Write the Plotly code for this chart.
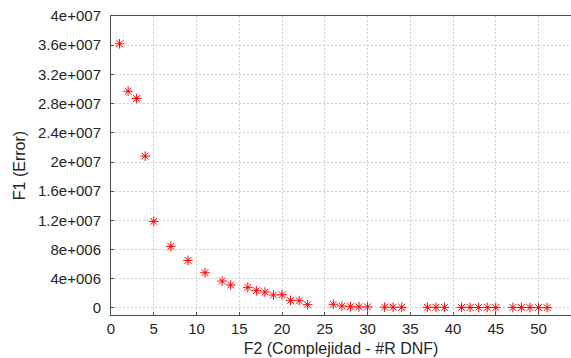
import plotly.graph_objects as go

complexity = [1, 2, 3, 4, 5, 7, 9, 11, 13, 14, 16, 17, 18, 19, 20, 21, 22, 23,
              26, 27, 28, 29, 30, 32, 33, 34, 37, 38, 39, 41, 42, 43, 44, 45,
              47, 48, 49, 50, 51]
error = [3.62e7, 2.97e7, 2.87e7, 2.08e7, 1.186e7, 8.44e6, 6.52e6, 4.83e6, 3.69e6,
         3.15e6, 2.83e6, 2.37e6, 2.19e6, 1.78e6, 1.82e6, 1.05e6, 1.0e6, 4.5e5,
         5.1e5, 2.7e5, 1.8e5, 1.5e5, 1.5e5, 1.2e5, 1.1e5, 1.0e5, 9e4, 9e4, 8e4,
         8e4, 8e4, 7e4, 7e4, 7e4, 6e4, 6e4, 6e4, 5e4, 5e4]

y_tickvals = [0, 4e6, 8e6, 1.2e7, 1.6e7, 2e7, 2.4e7, 2.8e7, 3.2e7, 3.6e7, 4e7]
y_ticktext = ["0", "4e+006", "8e+006", "1.2e+007", "1.6e+007", "2e+007",
              "2.4e+007", "2.8e+007", "3.2e+007", "3.6e+007", "4e+007"]
x_tickvals = [0, 5, 10, 15, 20, 25, 30, 35, 40, 45, 50]

fig = go.Figure(go.Scatter(
    x=complexity, y=error, mode="markers",
    marker=dict(symbol="asterisk-open", size=8, color="red",
                line=dict(color="red", width=1)),
))

font_col = "#262626"
fig.update_layout(
    width=571, height=358,
    margin=dict(l=111, r=0, t=16, b=43, autoexpand=False),
    paper_bgcolor="white", plot_bgcolor="white",
    showlegend=False,
    font=dict(family="Liberation Sans, Arial, sans-serif", size=15, color=font_col),
    xaxis=dict(
        range=[0, 53.8], tickvals=x_tickvals,
        showline=True, linecolor="#4d4d4d", linewidth=1, mirror=True,
        ticks="inside", ticklen=3, tickcolor="#4d4d4d",
        showgrid=True, gridcolor="#d0d0d0", griddash="2px,2px", gridwidth=1,
        zeroline=False,
        title=dict(text="F2 (Complejidad - #R DNF)", font=dict(size=16), standoff=6),
    ),
    yaxis=dict(
        range=[-0.96e6, 4e7], tickvals=y_tickvals, ticktext=y_ticktext,
        showline=True, linecolor="#4d4d4d", linewidth=1, mirror=False,
        ticks="inside", ticklen=3, tickcolor="#4d4d4d",
        showgrid=True, gridcolor="#d0d0d0", griddash="2px,2px", gridwidth=1,
        zeroline=False, ticklabelstandoff=6,
        title=dict(text="F1 (Error)", font=dict(size=16), standoff=8),
    ),
)

fig.write_html(
    "out.html",
    config={"displayModeBar": False},
    post_script="document.body.style.margin='0px';document.body.style.overflow='hidden';",
)
